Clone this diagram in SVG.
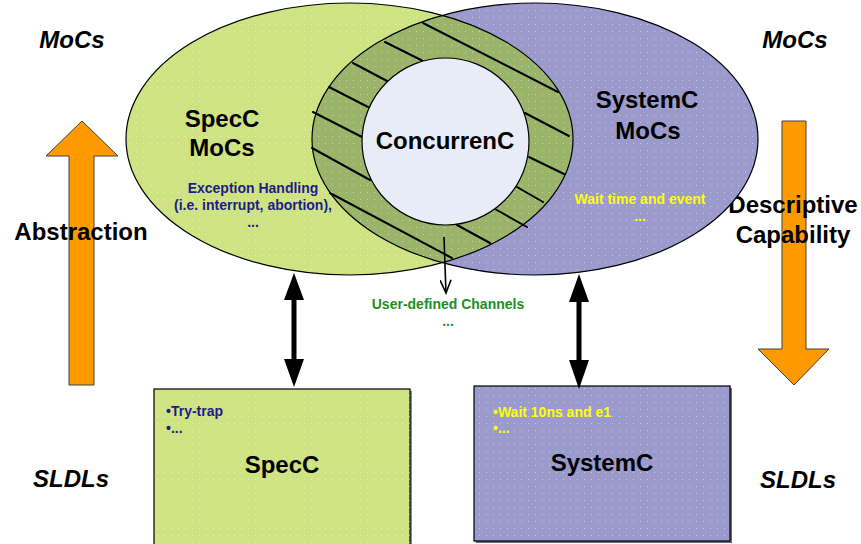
<svg xmlns="http://www.w3.org/2000/svg" width="861" height="544" viewBox="0 0 861 544">
  <style>
    text { font-family: "Liberation Sans", Arial, sans-serif; font-weight: bold; }
    .big { font-size: 24px; fill: #000; text-anchor: middle; }
    .side { font-size: 24px; font-style: italic; fill: #000; text-anchor: middle; }
    .note { font-size: 14px; text-anchor: middle; }
    .bullet { font-size: 14px; }
    .navy { fill: #1c1c8c; }
    .yellow { fill: #ffff00; }
    .green { fill: #1e8f1e; }
    .spec { fill: #d0e383; }
    .sysc { fill: #9a9acc; }
    .outline { fill: none; stroke: #000; stroke-width: 1.2; }
    .hatch { stroke: #000; stroke-width: 2; stroke-linecap: round; }
    .orange { fill: #ff9900; stroke: #404040; stroke-width: 1; }
    .dbl { fill: #000; }
  </style>
  <defs>
    <pattern id="dots" width="7" height="7" patternUnits="userSpaceOnUse">
      <rect x="3" y="3" width="1" height="1" fill="#ffffff" fill-opacity="0.45"/>
    </pattern>
    <clipPath id="leftClip">
      <ellipse cx="349.5" cy="139" rx="223.5" ry="136"/>
    </clipPath>
    <marker id="openHead" viewBox="0 0 16 12" refX="14" refY="6" markerWidth="16" markerHeight="12" markerUnits="userSpaceOnUse" orient="auto">
      <path d="M1,0.5 L14,6 L1,11.5" fill="none" stroke="#000" stroke-width="1.6"/>
    </marker>
  </defs>

  <rect width="861" height="544" fill="#ffffff"/>

  <!-- side labels -->
  <g id="labels">
    <text class="side" x="72" y="48">MoCs</text>
    <text class="side" x="795" y="48">MoCs</text>
    <text class="side" x="71" y="487">SLDLs</text>
    <text class="side" x="798" y="488">SLDLs</text>
  </g>

  <!-- abstraction arrow (upwards) -->
  <g id="abstraction">
    <polygon class="orange" points="82,121 118,156 94,156 94,385 69,385 69,156 46,156"/>
    <text class="big" x="81" y="240">Abstraction</text>
  </g>

  <!-- descriptive capability arrow (downwards) -->
  <g id="descriptive">
    <polygon class="orange" points="782,121 806,121 806,349 829,349 794,385 758,349 782,349"/>
    <text class="big" x="793" y="213">Descriptive</text>
    <text class="big" x="793" y="243">Capability</text>
  </g>

  <!-- SpecC models of computation -->
  <g id="specc-mocs">
    <ellipse class="spec" cx="349.5" cy="139" rx="223.5" ry="136"/>
    <ellipse fill="url(#dots)" cx="349.5" cy="139" rx="223.5" ry="136"/>
  </g>

  <!-- SystemC models of computation -->
  <g id="systemc-mocs">
    <ellipse class="sysc" cx="535" cy="139" rx="223" ry="136"/>
    <ellipse fill="url(#dots)" cx="535" cy="139" rx="223" ry="136"/>
  </g>

  <!-- shared region of both ellipses -->
  <g id="overlap">
    <ellipse clip-path="url(#leftClip)" fill="#9ab56a" cx="535" cy="139" rx="223" ry="136"/>
    <ellipse clip-path="url(#leftClip)" fill="url(#dots)" cx="535" cy="139" rx="223" ry="136"/>
    <ellipse class="outline" cx="349.5" cy="139" rx="223.5" ry="136"/>
    <ellipse class="outline" cx="535" cy="139" rx="223" ry="136"/>
    <g class="hatch">
      <line x1="423" y1="23" x2="558" y2="92"/>
      <line x1="385" y1="42" x2="423" y2="61"/>
      <line x1="353" y1="63" x2="387" y2="81"/>
      <line x1="329" y1="87" x2="368" y2="107"/>
      <line x1="313" y1="112" x2="362" y2="137"/>
      <line x1="312" y1="148" x2="370" y2="180"/>
      <line x1="330" y1="193" x2="452" y2="258"/>
      <line x1="457" y1="225" x2="490" y2="243"/>
      <line x1="495" y1="209" x2="527" y2="227"/>
      <line x1="517" y1="187" x2="543" y2="202"/>
      <line x1="529" y1="157" x2="564" y2="174"/>
      <line x1="525" y1="113" x2="569" y2="136"/>
    </g>
  </g>

  <!-- ConcurrenC core -->
  <g id="concurrenc">
    <circle cx="445.5" cy="141.5" r="83.5" fill="#e8ecf7" stroke="#000" stroke-width="1.2"/>
    <text class="big" x="445" y="149">ConcurrenC</text>
  </g>

  <!-- ellipse captions -->
  <g id="specc-mocs-text">
    <text class="big" x="222" y="127">SpecC</text>
    <text class="big" x="222" y="156">MoCs</text>
    <text class="note navy" x="253" y="193">Exception Handling</text>
    <text class="note navy" x="253" y="210">(i.e. interrupt, abortion),</text>
    <text class="note navy" x="253" y="227">...</text>
  </g>
  <g id="systemc-mocs-text">
    <text class="big" x="647" y="108">SystemC</text>
    <text class="big" x="648" y="139">MoCs</text>
    <text class="note yellow" x="640" y="204">Wait time and event</text>
    <text class="note yellow" x="640" y="221">...</text>
  </g>

  <!-- user-defined channels label -->
  <g id="channels">
    <text class="note green" x="448" y="309">User-defined Channels</text>
    <text class="note green" x="448" y="326">...</text>
  </g>

  <!-- SpecC language box -->
  <g id="specc-sldl">
    <rect x="156" y="391" width="256" height="156" fill="#8a8a8a"/>
    <rect class="spec" x="154" y="389" width="256" height="156" stroke="#000" stroke-width="1.2"/>
    <rect fill="url(#dots)" x="154" y="389" width="256" height="156"/>
    <text class="bullet navy" x="166" y="416">•Try-trap</text>
    <text class="bullet navy" x="166" y="433">•...</text>
    <text class="big" x="282" y="473">SpecC</text>
  </g>

  <!-- SystemC language box -->
  <g id="systemc-sldl">
    <rect x="476" y="388" width="256" height="155" fill="#6a6a80"/>
    <rect class="sysc" x="474" y="386" width="256" height="155" stroke="#000" stroke-width="1.2"/>
    <rect fill="url(#dots)" x="474" y="386" width="256" height="155"/>
    <text class="bullet yellow" x="493" y="417">•Wait 10ns and e1</text>
    <text class="bullet yellow" x="493" y="433">•...</text>
    <text class="big" x="602" y="471">SystemC</text>
  </g>

  <!-- connectors -->
  <g id="connectors">
    <line x1="444" y1="237" x2="446" y2="293" stroke="#000" stroke-width="1.6" marker-end="url(#openHead)"/>
    <g class="dbl">
      <rect x="291.5" y="296" width="5" height="66"/>
      <polygon points="294,273 304,300 284,300"/>
      <polygon points="294,387 284,359 304,359"/>
      <rect x="576.5" y="299" width="5" height="64"/>
      <polygon points="579,274 589,302 569,302"/>
      <polygon points="579,389 569,360 589,360"/>
    </g>
  </g>
</svg>
